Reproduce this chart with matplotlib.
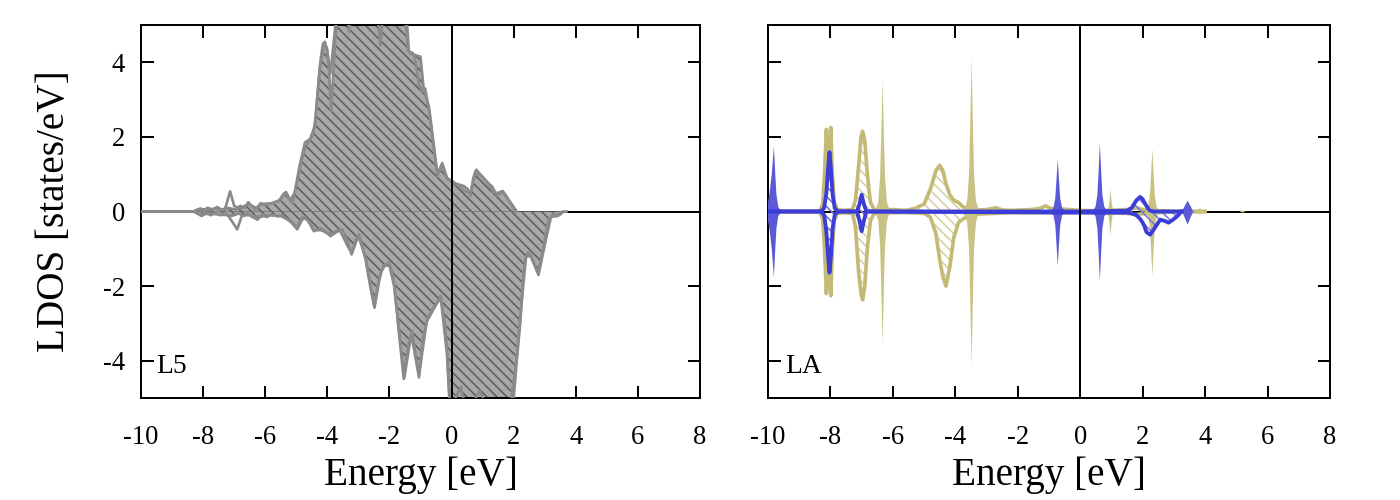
import matplotlib.pyplot as plt

plt.rcParams['font.family'] = ['Liberation Serif', 'DejaVu Serif']
plt.rcParams['axes.unicode_minus'] = False
plt.rcParams['hatch.linewidth'] = 0.9

# ---------- L5 panel (gray, hatched) ----------
E_L5_up = [-10, -8.3, -8.15, -8.0, -7.85, -7.7, -7.55, -7.4, -7.25, -7.1,
           -6.95, -6.8, -6.65, -6.55, -6.4, -6.3, -6.15, -6.0, -5.85, -5.7,
           -5.55, -5.4, -5.33, -5.22, -5.12, -5.0, -4.85, -4.7, -4.55, -4.45,
           -4.38, -4.3, -4.22, -4.14, -4.08, -4.0, -3.95, -3.88, -3.82, -3.75,
           -3.68, -3.5, -3.0, -2.5, -2.0, -1.6, -1.43, -1.37, -1.2, -1.0,
           -0.9, -0.73, -0.57, -0.46, -0.38, -0.3, -0.2, -0.14, 0.07, 0.25,
           0.4, 0.52, 0.61, 0.7, 0.77, 0.88, 0.99, 1.15, 1.3, 1.47,
           1.58, 1.68, 1.8, 1.9, 2.06]
L5_up = [0, 0, 0.06, 0.02, 0.1, 0.05, 0.12, 0.04, 0.1, 0.08,
         0.05, 0.15, 0.1, 0.25, 0.12, 0.05, 0.22, 0.18, 0.2, 0.25,
         0.3, 0.48, 0.52, 0.35, 0.22, 0.7, 1.3, 1.75, 1.92, 2.1,
         2.5, 3.3, 4.05, 4.5, 4.55, 4.3, 3.9, 2.7, 3.5, 4.6,
         5.2, 6.0, 6.5, 6.0, 6.2, 5.5, 5.0, 4.25, 4.2, 4.15,
         3.3, 2.8, 1.75, 0.95, 1.1, 1.26, 1.0, 0.86, 0.76, 0.72,
         0.68, 0.6, 0.42, 0.9, 1.08, 1.0, 0.94, 0.77, 0.68, 0.42,
         0.5, 0.5, 0.35, 0.23, 0.0]

E_L5_dn = [-10, -8.3, -8.2, -8.05, -7.9, -7.75, -7.6, -7.45, -7.3, -7.15,
           -7.0, -6.85, -6.7, -6.55, -6.45, -6.25, -6.1, -5.95, -5.8, -5.6,
           -5.45, -5.3, -5.15, -4.97, -4.81, -4.7, -4.55, -4.43, -4.22, -4.05,
           -3.9, -3.7, -3.52, -3.35, -3.22, -3.1, -2.98, -2.88, -2.77, -2.62,
           -2.48, -2.38, -2.29, -2.15, -2.02, -1.92, -1.85, -1.7, -1.54, -1.4,
           -1.27, -1.15, -1.05, -0.92, -0.78, -0.6, -0.46, -0.35, -0.22, -0.14,
           -0.05, 0.3, 1.0, 1.8, 2.0, 2.1, 2.22, 2.3, 2.38, 2.46,
           2.54, 2.66, 2.78, 2.88, 2.97, 3.05, 3.13, 3.3, 3.42, 3.5,
           3.6]
L5_dn = [0, 0, -0.05, -0.12, -0.05, -0.1, -0.03, -0.1, -0.05, -0.12,
         -0.1, -0.05, -0.12, -0.05, -0.13, -0.22, -0.08, -0.15, -0.08, -0.13,
         -0.1, -0.2, -0.3, -0.48, -0.22, -0.16, -0.35, -0.53, -0.44, -0.55,
         -0.66, -0.55, -0.48, -0.8, -1.15, -0.8, -0.61, -0.9, -1.28, -2.0,
         -2.58, -2.1, -1.64, -1.45, -1.37, -1.6, -1.91, -3.2, -4.49, -3.6,
         -3.2, -3.9, -4.45, -3.4, -2.89, -2.6, -2.44, -2.26, -3.0, -3.78,
         -5.3, -6.0, -6.0, -5.5, -5.0, -4.0, -2.9, -1.8, -1.28, -1.1,
         -1.15, -1.4, -1.64, -1.3, -0.93, -0.5, -0.21, -0.05, -0.12, -0.08,
         0]

E_L5_up2 = [-10, -8.3, -8.1, -7.9, -7.6, -7.3, -7.13, -7.0, -6.8, -6.55,
            -6.3, -6.1, -5.8, -5.55, -5.35, -5.2, -5.05, -4.9, -4.72, -4.55,
            -4.4, -4.25, -4.12, -4.02, -3.95, -3.9, -3.8, -3.7, -3.35, -3.3,
            -3.25, -2.4, -2.29, -2.2, -1.5, -1.4, -1.25, -1.15, -1.05, -0.95,
            -0.85, -0.7, -0.55, -0.45, -0.3, -0.15, 0.05, 0.2, 0.4, 0.6,
            0.8, 1.0, 1.2, 1.35, 1.5, 1.65, 1.85, 2.1]
L5_up2 = [0, 0, 0.08, 0.04, 0.08, 0.05, 0.54, 0.15, 0.08, 0.2,
          0.1, 0.2, 0.22, 0.28, 0.5, 0.3, 0.5, 1.2, 1.85, 1.95,
          2.3, 3.8, 4.45, 4.4, 4.0, 3.7, 4.5, 5.3, 5.3, 4.8,
          5.3, 5.4, 4.45, 5.4, 5.3, 4.3, 4.25, 4.0, 3.4, 3.2,
          3.3, 2.6, 1.6, 1.0, 1.3, 0.9, 0.8, 0.7, 0.55, 0.5,
          1.12, 0.92, 0.75, 0.5, 0.5, 0.55, 0.3, 0.0]

E_L5_dn2 = [-10, -8.3, -8.1, -7.8, -7.5, -7.2, -6.9, -6.75, -6.45, -6.2,
            -5.9, -5.5, -5.2, -5.0, -4.8, -4.6, -4.45, -4.2, -3.95, -3.6,
            -3.3, -3.2, -3.0, -2.75, -2.5, -2.35, -2.2, -2.0, -1.85, -1.52,
            -1.3, -1.05, -0.8, -0.5, -0.35, -0.15, -0.05, 0.3, 0.5, 0.9,
            1.3, 1.9, 2.1, 2.25, 2.4, 2.55, 2.8, 3.0, 3.2, 3.4,
            3.5, 3.7]
L5_dn2 = [0, 0, -0.08, -0.05, -0.08, -0.1, -0.48, -0.1, -0.1, -0.15,
          -0.1, -0.12, -0.25, -0.42, -0.15, -0.25, -0.5, -0.5, -0.6, -0.5,
          -1.0, -1.1, -0.65, -1.3, -2.5, -1.9, -1.45, -1.45, -2.0, -4.45,
          -3.3, -4.4, -2.95, -2.5, -2.3, -3.8, -5.3, -4.7, -5.5, -4.8,
          -5.5, -5.2, -3.9, -2.5, -1.2, -1.2, -1.7, -0.9, -0.15, -0.12,
          -0.02, 0]

# ---------- LA panel ----------
# olive, hatched with outline
E_ol_hat = [-10, -8.35, -8.25, -8.19, -8.13, -8.08, -8.06, -8.03, -7.99, -7.94,
            -7.88, -7.78, -7.6, -7.3, -7.2, -7.1, -7.02, -6.97, -6.9, -6.82,
            -6.72, -6.6, -6.0, -5.6, -5.3, -5.0, -4.8, -4.62, -4.5, -4.4,
            -4.3, -4.18, -4.05, -3.9, -3.75, -3.5, -3.0, -2.7, -2.5, -2.2,
            -1.6, -1.3, -1.1, -0.95, -0.5, 0.0, 0.5, 1.5, 1.8, 2.0,
            2.3, 2.5, 3.5, 4.0]
ol_hat_up = [0, 0, 0.2, 1.0, 2.2, 1.4, 0.95, 1.4, 2.25, 1.0,
             0.25, 0.05, 0.03, 0.05, 0.3, 1.2, 2.0, 2.15, 1.9, 1.0,
             0.25, 0.05, 0.05, 0.03, 0.08, 0.2, 0.6, 1.1, 1.24, 1.1,
             0.75, 0.45, 0.3, 0.24, 0.12, 0.03, 0.05, 0.1, 0.04, 0.03,
             0.05, 0.08, 0.15, 0.08, 0.06, 0.03, 0.02, 0.05, 0.1, 0.05,
             0.03, 0.02, 0.0, 0.0]
ol_hat_dn = [0, 0, -0.2, -1.0, -2.2, -1.4, -0.95, -1.4, -2.26, -1.0,
             -0.25, -0.05, -0.03, -0.05, -0.4, -1.6, -2.2, -2.37, -2.0, -1.0,
             -0.25, -0.05, -0.03, -0.03, -0.04, -0.05, -0.15, -0.6, -1.3, -1.75,
             -2.0, -1.5, -0.7, -0.3, -0.2, -0.08, -0.06, -0.05, -0.04, -0.03,
             -0.03, -0.03, -0.03, -0.03, -0.03, -0.02, -0.03, -0.05, -0.08, -0.06,
             -0.05, -0.03, 0.0, 0.0]

# olive, solid spikes
E_ol_sp = [-10, -6.57, -6.47, -6.41, -6.37, -6.33, -6.29, -6.25, -6.19, -6.09,
           -3.72, -3.62, -3.56, -3.52, -3.48, -3.44, -3.40, -3.34, -3.24,
           0.85, 0.91, 0.94, 0.97, 1.0, 1.03, 1.09,
           2.07, 2.17, 2.23, 2.27, 2.31, 2.35, 2.39, 2.45, 2.55,
           3.72, 3.78, 3.83, 3.88, 3.95,
           5.1, 5.2, 5.3, 8]
ol_sp_up = [0, 0, 0.25, 0.9, 2.1, 3.53, 2.1, 0.9, 0.25, 0,
            0, 0.29, 1.0, 2.45, 4.1, 2.45, 1.0, 0.29, 0,
            0, 0.12, 0.3, 0.6, 0.3, 0.12, 0,
            0, 0.12, 0.42, 1.0, 1.68, 1.0, 0.42, 0.12, 0,
            0, 0.06, 0.08, 0.06, 0,
            0, 0.03, 0, 0]
ol_sp_dn = [0, 0, -0.25, -0.9, -2.1, -3.56, -2.1, -0.9, -0.25, 0,
            0, -0.29, -1.0, -2.45, -4.14, -2.45, -1.0, -0.29, 0,
            0, -0.13, -0.33, -0.66, -0.33, -0.13, 0,
            0, -0.12, -0.43, -1.0, -1.73, -1.0, -0.43, -0.12, 0,
            0, -0.06, -0.08, -0.06, 0,
            0, -0.03, 0, 0]

# blue, hatched with outline
E_bl_hat = [-10, -8.3, -8.2, -8.13, -8.08, -8.03, -7.98, -7.93, -7.86, -7.75,
            -7.15, -7.07, -7.0, -6.93, -6.85, 0.0, 1.5, 1.65, 1.8, 1.92,
            2.0, 2.05, 2.12, 2.2, 2.24, 2.38, 2.56, 2.7, 2.83, 2.97,
            3.1, 3.25]
bl_hat_up = [0, 0, 0.1, 0.5, 1.1, 1.59, 1.1, 0.45, 0.08, 0,
             0, 0.2, 0.45, 0.2, 0, 0, 0.02, 0.1, 0.3, 0.39,
             0.33, 0.25, 0.15, 0.05, 0.02, 0, 0, 0, 0, 0,
             0, 0]
bl_hat_dn = [0, 0, -0.1, -0.55, -1.15, -1.64, -1.15, -0.45, -0.08, 0,
             0, -0.25, -0.53, -0.25, 0, -0.03, -0.03, -0.05, -0.1, -0.2,
             -0.3, -0.38, -0.55, -0.6, -0.62, -0.45, -0.22, -0.25, -0.3, -0.22,
             -0.13, 0]

# blue, solid spikes
E_bl_sp = [-10.05, -9.95, -9.88, -9.81, -9.77, -9.73, -9.67, -9.57,
           -0.96, -0.86, -0.8, -0.76, -0.72, -0.68, -0.64, -0.58, -0.48,
           0.39, 0.49, 0.55, 0.59, 0.63, 0.67, 0.71, 0.77, 0.87,
           3.26, 3.35, 3.44, 3.53, 3.62]
bl_sp_up = [0, 0.5, 1.0, 1.75, 1.05, 0.45, 0.12, 0,
            0, 0.1, 0.35, 0.85, 1.41, 0.85, 0.35, 0.1, 0,
            0, 0.13, 0.45, 1.1, 1.82, 1.1, 0.45, 0.13, 0,
            0, 0.15, 0.29, 0.15, 0]
bl_sp_dn = [0, -0.5, -1.0, -1.77, -1.05, -0.45, -0.12, 0,
            0, -0.1, -0.36, -0.88, -1.46, -0.88, -0.36, -0.1, 0,
            0, -0.13, -0.46, -1.12, -1.86, -1.12, -0.46, -0.13, 0,
            0, -0.17, -0.35, -0.17, 0]

xticks = [-10, -8, -6, -4, -2, 0, 2, 4, 6, 8]
yticks = [-4, -2, 0, 2, 4]

gray_fill = '#a8a8a8'
gray_hatch = '#5a5a5a'
gray_line = '#8a8a8a'
ol_line = '#c3ba76'
ol_fill = '#c9c283'
ol_hatch = '#d3cd9c'
bl_fill = '#5a5ad8'
bl_line = '#3c3cd8'
bl_hatch = '#7272de'
HATCH = '\\\\\\\\'

fig = plt.figure(figsize=(1400 / 120, 500 / 120), dpi=120)
ax1 = fig.add_axes([141 / 1400, 102 / 500, 559 / 1400, 373 / 500])
ax2 = fig.add_axes([768 / 1400, 102 / 500, 562 / 1400, 373 / 500])

for ax in (ax1, ax2):
    ax.set_xlim(-10, 8)
    ax.set_ylim(-5, 5)
    ax.set_xticks(xticks)
    ax.set_yticks(yticks)
    ax.tick_params(direction='in', top=True, right=True, length=7.5,
                   width=1.2, labelsize=16)
    ax.tick_params(axis='x', pad=16)
    ax.tick_params(axis='y', pad=9.6)
    for s in ax.spines.values():
        s.set_linewidth(1.2)
    ax.axhline(0, color='black', lw=1.2, zorder=1)
    ax.axvline(0, color='black', lw=1.2, zorder=10)
    ax.set_xlabel('Energy [eV]', fontsize=23.5, labelpad=4)

# left panel
ax1.fill_between(E_L5_up, 0, L5_up, facecolor=gray_fill, edgecolor=gray_hatch,
                 hatch=HATCH, linewidth=0, zorder=2)
ax1.fill_between(E_L5_dn, L5_dn, 0, facecolor=gray_fill, edgecolor=gray_hatch,
                 hatch=HATCH, linewidth=0, zorder=2)
ax1.plot(E_L5_up2, L5_up2, color=gray_line, lw=1.6, zorder=3)
ax1.plot(E_L5_dn2, L5_dn2, color=gray_line, lw=1.6, zorder=3)
ax1.plot(E_L5_up, L5_up, color=gray_line, lw=1.6, zorder=3)
ax1.plot(E_L5_dn, L5_dn, color=gray_line, lw=1.6, zorder=3)
ax1.set_ylabel('LDOS [states/eV]', fontsize=23.5, labelpad=18)
ax1.text(0.027, -4.33, 'L5', transform=ax1.get_yaxis_transform(),
         fontsize=16.5, va='baseline', ha='left')

# right panel
ax2.fill_between(E_ol_hat, 0, ol_hat_up, facecolor='none', edgecolor=ol_hatch,
                 hatch=HATCH, linewidth=0, zorder=2)
ax2.fill_between(E_ol_hat, ol_hat_dn, 0, facecolor='none', edgecolor=ol_hatch,
                 hatch=HATCH, linewidth=0, zorder=2)
ax2.plot(E_ol_hat, ol_hat_up, color=ol_line, lw=2.2, zorder=3)
ax2.plot(E_ol_hat, ol_hat_dn, color=ol_line, lw=2.2, zorder=3)
ax2.fill_between(E_ol_sp, ol_sp_dn, ol_sp_up, facecolor=ol_fill, linewidth=0,
                 zorder=4)
ax2.fill_between(E_bl_sp, bl_sp_dn, bl_sp_up, facecolor=bl_fill, linewidth=0,
                 zorder=5)
ax2.fill_between(E_bl_hat, 0, bl_hat_up, facecolor='none', edgecolor=bl_hatch,
                 hatch=HATCH, linewidth=0, zorder=5)
ax2.fill_between(E_bl_hat, bl_hat_dn, 0, facecolor='none', edgecolor=bl_hatch,
                 hatch=HATCH, linewidth=0, zorder=5)
ax2.plot(E_bl_hat, bl_hat_up, color=bl_line, lw=2.3, zorder=6)
ax2.plot(E_bl_hat, bl_hat_dn, color=bl_line, lw=2.3, zorder=6)
ax2.tick_params(axis='y', labelleft=False)
ax2.text(0.03, -4.33, 'LA', transform=ax2.get_yaxis_transform(),
         fontsize=16.5, va='baseline', ha='left')

fig.savefig('out.png', dpi=120)
